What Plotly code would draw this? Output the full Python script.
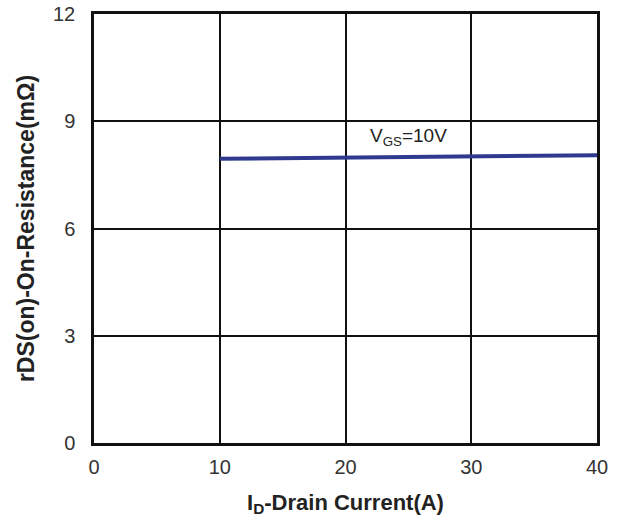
import plotly.graph_objects as go

current_a = [10, 20, 30, 40]
rdson_mohm = [7.95, 7.98, 8.01, 8.05]
x_ticks = [0, 10, 20, 30, 40]
y_ticks = [0, 3, 6, 9, 12]
curve_label = "V<sub>GS</sub>=10V"

FONT = "Liberation Sans, Arial"
fig = go.Figure()
fig.add_trace(go.Scatter(x=current_a, y=rdson_mohm, mode="lines",
                         line=dict(color="#2f3a8f", width=4), showlegend=False))
fig.add_annotation(x=25, y=8.55, text=curve_label, showarrow=False,
                   font=dict(family=FONT, size=19, color="#222"))

axis_common = dict(showgrid=True, gridcolor="#111", gridwidth=2, showline=True,
                   linecolor="#111", linewidth=2.5, mirror=True, zeroline=False,
                   ticks="", ticklabeloverflow="allow",
                   tickfont=dict(family=FONT, size=20, color="#333"))
fig.update_xaxes(range=[0, 40], tickvals=x_ticks, ticklabelstandoff=4, **axis_common,
                 title=dict(text="<b>I<sub>D</sub>-Drain Current(A)</b>",
                            font=dict(family=FONT, size=22, color="#222"), standoff=18))
fig.update_yaxes(range=[0, 12], tickvals=y_ticks, ticklabelstandoff=12, **axis_common,
                 title=dict(text="<b>rDS(on)-On-Resistance(mΩ)</b>",
                            font=dict(family=FONT, size=23, color="#222"), standoff=12))
fig.update_layout(width=622, height=523,
                  margin=dict(l=94, r=25, t=14, b=80, autoexpand=False),
                  plot_bgcolor="white", paper_bgcolor="white")
fig.write_html("out.html")
